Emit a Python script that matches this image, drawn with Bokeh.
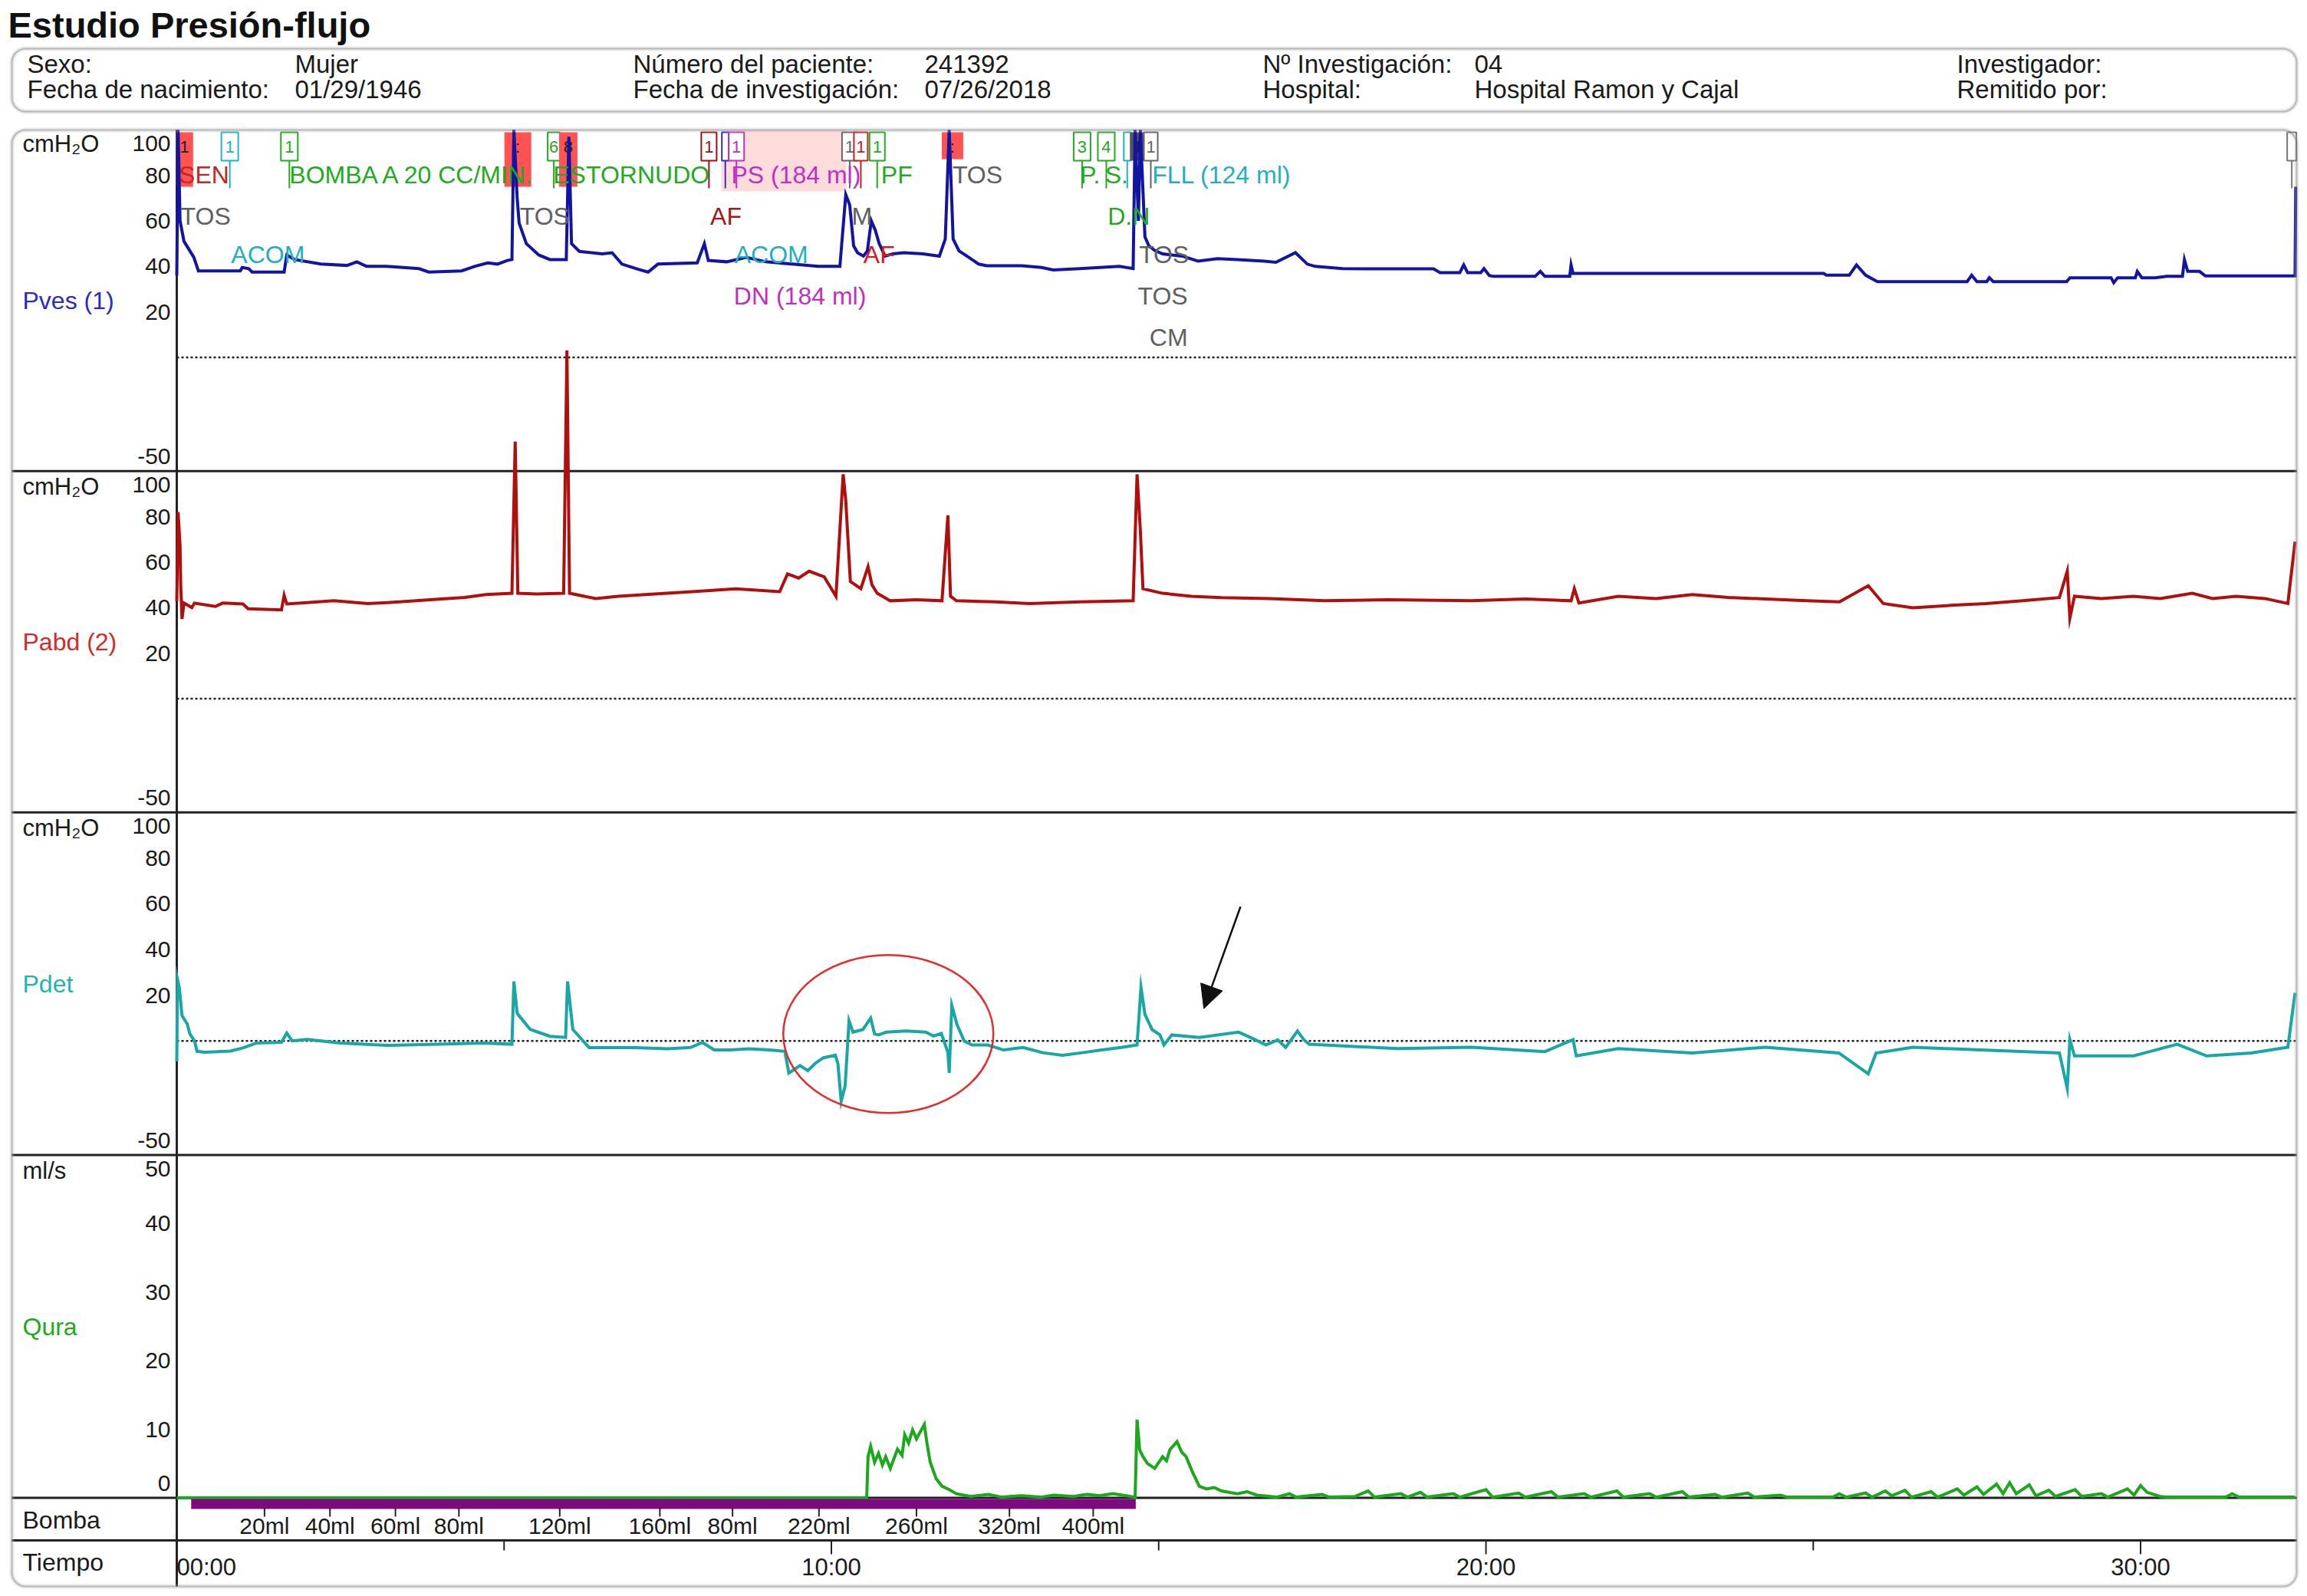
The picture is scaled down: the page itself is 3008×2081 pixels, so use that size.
from bokeh.plotting import figure
from bokeh.models import Range1d, BoxAnnotation, Arrow, NormalHead
from bokeh.core.properties import value
from bokeh.embed import file_html
from bokeh.resources import INLINE

FONT = "Liberation Sans"

# ------------------------------------------------------------------ data
# (time in minutes, value)
pves = [
    (0.00, 36), (0.02, 100), (0.05, 60), (0.11, 51), (0.26, 44), (0.33, 38),
    (0.97, 38), (1.00, 39.5), (1.10, 39), (1.15, 37.5), (1.64, 37.5), (1.68, 45),
    (1.80, 43), (2.20, 41), (2.60, 40.4), (2.75, 42), (2.90, 40), (3.20, 40),
    (3.70, 39), (3.85, 37.5), (4.35, 38), (4.55, 40), (4.75, 41.5), (4.90, 41),
    (5.05, 42.6), (5.12, 43), (5.15, 100), (5.20, 70), (5.23, 59), (5.34, 50),
    (5.53, 45), (5.70, 43), (5.95, 43), (5.99, 97), (6.03, 50), (6.15, 46.6),
    (6.50, 45.5), (6.65, 46), (6.80, 41), (7.05, 38.7), (7.20, 37.5), (7.35, 41),
    (7.95, 41.5), (8.06, 50), (8.12, 42.6), (8.40, 42), (8.70, 44), (9.00, 42),
    (9.40, 41), (9.80, 40), (10.13, 40), (10.22, 71.5), (10.28, 67), (10.34, 49),
    (10.40, 46), (10.49, 44.5), (10.55, 46.8), (10.61, 60), (10.67, 56), (10.73, 50),
    (10.82, 44.5), (10.94, 45.5), (11.11, 46), (11.40, 45.5), (11.65, 44.5), (11.74, 52),
    (11.80, 100), (11.86, 52), (11.95, 46.8), (12.07, 44.5), (12.25, 41), (12.37, 40.3),
    (12.91, 40.3), (13.21, 39.5), (13.39, 38.4), (13.80, 39), (14.40, 40), (14.61, 39),
    (14.64, 100), (14.69, 60), (14.72, 100), (14.79, 53), (14.85, 49), (14.94, 47),
    (15.06, 45.5), (15.36, 44.5), (15.60, 42.3), (15.90, 43.4), (16.20, 43), (16.61, 42.3),
    (16.79, 41.8), (17.09, 46), (17.27, 41), (17.39, 40), (17.81, 39), (18.40, 38.9),
    (19.20, 38.9), (19.30, 37.2), (19.60, 37.2), (19.66, 40.6), (19.72, 37.2), (19.92, 37.2),
    (19.97, 39), (20.05, 36), (20.11, 35.6), (20.75, 35.6), (20.83, 37.8), (20.90, 35.6),
    (21.28, 35.6), (21.30, 40.6), (21.33, 36.9), (25.16, 36.9), (25.20, 36.1), (25.55, 36.1),
    (25.66, 40.6), (25.80, 36.1), (25.98, 33.3), (27.35, 33.3), (27.42, 36.1), (27.50, 33.3),
    (27.65, 33.3), (27.69, 35.0), (27.75, 33.3), (28.87, 33.3), (28.92, 35.0), (29.55, 35.0),
    (29.59, 32.8), (29.65, 35.0), (29.92, 35.0), (29.95, 37.8), (30.02, 35.0), (30.22, 35.0),
    (30.40, 35.6), (30.64, 35.6), (30.67, 42.9), (30.72, 37.8), (30.90, 37.8), (30.99, 35.8),
    (32.36, 35.8), (32.37, 75),
]

pabd = [
    (0.00, 42.7), (0.02, 82), (0.05, 67), (0.06, 50), (0.08, 35), (0.11, 42),
    (0.23, 40), (0.27, 42), (0.59, 40.5), (0.70, 42), (1.01, 41.6), (1.09, 39.5),
    (1.60, 39), (1.64, 45.4), (1.68, 41.6), (1.99, 42.2), (2.40, 43), (2.92, 41.8),
    (3.40, 42.5), (4.04, 43.8), (4.40, 44.5), (4.72, 45.7), (5.12, 46.3), (5.17, 113),
    (5.21, 46.3), (5.50, 46), (5.91, 46.3), (5.96, 153), (6.00, 46.3), (6.40, 44),
    (6.74, 45), (7.30, 46), (7.87, 47), (8.54, 48.3), (9.21, 47), (9.33, 54.8),
    (9.50, 53), (9.66, 56), (9.89, 53.5), (10.07, 45), (10.18, 98.6), (10.22, 87),
    (10.29, 51.5), (10.45, 48.3), (10.56, 58), (10.62, 50), (10.70, 46.3), (10.90, 43),
    (11.30, 43.5), (11.69, 43), (11.78, 80.6), (11.82, 45), (11.91, 43), (12.50, 42.5),
    (13.03, 41.8), (13.80, 42.5), (14.61, 43), (14.67, 98.6), (14.72, 74), (14.76, 48.3),
    (15.06, 46.3), (15.50, 45), (15.96, 44.4), (16.70, 44), (17.53, 43), (18.50, 43.5),
    (19.78, 43), (20.60, 43.8), (21.30, 43), (21.35, 48.3), (21.42, 42), (22.02, 45),
    (22.60, 44), (23.15, 45.7), (23.70, 44.5), (24.27, 43.8), (24.90, 43), (25.40, 42.5),
    (25.84, 49.6), (26.07, 41.8), (26.52, 39.9), (27.10, 41), (27.64, 41.8), (28.20, 43),
    (28.76, 44.4), (28.88, 56), (28.92, 35.4), (28.99, 45), (29.40, 44), (29.89, 45),
    (30.30, 44), (30.79, 46.3), (31.10, 44), (31.46, 45), (31.90, 44), (32.25, 41.8),
    (32.36, 69),
]

pdet = [
    (0.00, -9), (0.01, 27), (0.04, 23), (0.08, 11), (0.16, 7.4), (0.20, 3),
    (0.27, 0), (0.31, -4.6), (0.43, -5), (0.82, -4.5), (1.02, -3), (1.21, -1),
    (1.60, -0.6), (1.68, 3.4), (1.76, 0), (1.99, 0.6), (2.50, -1), (3.20, -2),
    (4.00, -1.5), (4.70, -1), (5.12, -1.5), (5.15, 26), (5.20, 12), (5.40, 5),
    (5.70, 2), (5.94, 1.5), (5.97, 26), (6.05, 5), (6.30, -3), (7.00, -3),
    (7.50, -3.5), (7.85, -2.9), (8.03, -0.7), (8.21, -4.0), (8.45, -4.0), (8.75, -3.5),
    (9.05, -4.0), (9.29, -4.6), (9.35, -14.1), (9.52, -10.8), (9.64, -13.0), (9.76, -9.7),
    (9.88, -7.4), (10.06, -6.3), (10.10, -10), (10.15, -26.4), (10.21, -19.7), (10.27, 8.8),
    (10.33, 3.8), (10.48, 4.9), (10.60, 9.9), (10.66, 3), (10.72, 2.6), (10.84, 3.8),
    (11.14, 4.3), (11.44, 3.8), (11.56, 2.1), (11.68, 3.2), (11.78, -5), (11.80, -14),
    (11.84, 15.5), (11.92, 7.1), (12.03, -0.1), (12.15, -1.8), (12.39, -1.8), (12.63, -4.0),
    (12.93, -2.9), (13.23, -5.2), (13.53, -6.3), (13.83, -5.2), (14.13, -4.0), (14.43, -2.9),
    (14.67, -1.8), (14.73, 23.4), (14.79, 11.6), (14.90, 4.9), (15.02, 2.6), (15.08, -1.8),
    (15.20, 2.6), (15.62, 1.5), (16.22, 3.8), (16.40, 1.5), (16.64, -1.8), (16.82, 0.4),
    (16.94, -2.9), (17.12, 4.3), (17.22, 0.4), (17.30, -1.5), (18.65, -3.4), (19.78, -2.8),
    (20.90, -4.7), (21.33, 0.5), (21.38, -6.6), (22.02, -3.4), (23.15, -5.3), (24.27, -2.8),
    (25.39, -5.3), (25.84, -14.4), (25.96, -5.3), (26.52, -2.8), (27.64, -4.1), (28.76, -5.3),
    (28.88, -20.8), (28.92, 0.5), (28.99, -6.6), (29.89, -6.6), (30.56, -1.5), (31.01, -6.6),
    (31.69, -5.3), (32.25, -2.8), (32.36, 21),
]

qura = [
    (0.00, 0), (10.54, 0), (10.56, 6.0), (10.60, 7.5), (10.66, 5.2), (10.72, 6.5),
    (10.78, 4.8), (10.83, 6.0), (10.90, 4.3), (11.01, 7.1), (11.08, 6.2), (11.12, 9.2),
    (11.18, 8.0), (11.24, 9.9), (11.30, 8.6), (11.35, 9.5), (11.42, 10.7), (11.46, 8.0),
    (11.51, 5.2), (11.60, 2.8), (11.69, 1.7), (11.80, 1.2), (11.91, 0.6), (12.13, 0.2),
    (12.40, 0.5), (12.60, 0.1), (12.90, 0.3), (13.20, 0.1), (13.40, 0.4), (13.70, 0.2),
    (13.90, 0.5), (14.10, 0.3), (14.30, 0.6), (14.64, 0.1), (14.67, 11.4), (14.71, 7.0),
    (14.76, 6.0), (14.83, 5.0), (14.94, 4.3), (15.06, 6.0), (15.12, 5.4), (15.17, 7.0),
    (15.28, 8.2), (15.35, 6.7), (15.42, 6.0), (15.51, 3.9), (15.62, 1.7), (15.73, 1.3),
    (15.85, 1.5), (15.96, 1.0), (16.20, 0.6), (16.35, 0.9), (16.50, 0.4), (16.80, 0.1),
    (17.00, 0.6), (17.10, 0.1), (17.50, 0.5), (17.60, 0.1), (18.00, 0.2), (18.20, 1.0),
    (18.30, 0.1), (18.70, 0.6), (18.80, 0.1), (19.00, 0.8), (19.10, 0.1), (19.50, 0.6),
    (19.60, 0.1), (20.00, 1.2), (20.10, 0.1), (20.50, 0.7), (20.60, 0.1), (21.00, 0.9),
    (21.10, 0.1), (21.50, 0.6), (21.60, 0.1), (22.00, 1.0), (22.10, 0.1), (22.50, 0.6),
    (22.60, 0.1), (23.00, 0.9), (23.10, 0.1), (23.50, 0.5), (23.60, 0.1), (24.00, 0.7),
    (24.10, 0.1), (24.50, 0.4), (24.60, 0.1), (25.30, 0.1), (25.40, 0.6), (25.50, 0.1),
    (25.80, 0.7), (25.90, 0.1), (26.10, 1.0), (26.20, 0.3), (26.40, 1.1), (26.50, 0.1),
    (26.80, 0.9), (26.90, 0.1), (27.20, 1.3), (27.30, 0.4), (27.50, 1.6), (27.60, 0.5),
    (27.80, 2.0), (27.90, 0.6), (28.00, 2.2), (28.10, 0.6), (28.30, 1.9), (28.40, 0.3),
    (28.60, 1.1), (28.70, 0.2), (29.00, 1.2), (29.10, 0.2), (29.40, 0.6), (29.50, 0.1),
    (29.80, 1.3), (29.90, 0.4), (30.00, 1.8), (30.10, 0.8), (30.30, 0.2), (30.40, 0.1),
    (31.30, 0.1), (31.40, 0.6), (31.50, 0.1), (32.36, 0.1),
]

press_ticks = [100, 80, 60, 40, 20, -50]
press_tick_labels = ["100", "80", "60", "40", "20", "-50"]
flow_ticks = [50, 40, 30, 20, 10, 0]
flow_tick_labels = ["50", "40", "30", "20", "10", "0"]
time_ticks = [0, 10, 20, 30]
time_tick_labels = ["00:00", "10:00", "20:00", "30:00"]
time_minor_ticks = [5, 15, 25]

bomba_t = [1.34, 2.34, 3.34, 4.31, 5.85, 7.38, 8.49, 9.81, 11.30, 12.72, 14.00]
bomba_labels = ["20ml", "40ml", "60ml", "80ml", "120ml", "160ml", "80ml",
                "220ml", "260ml", "320ml", "400ml"]
bomba_span = (0.22, 14.65)
flow_segment = (14.70, 16.30)
ps_span = (8.32, 10.23)

event_t = [0.12, 0.81, 1.72, 5.21, 5.76, 5.98, 8.13, 8.38, 8.55, 10.28,
           10.45, 10.70, 11.85, 13.83, 14.20, 14.52, 14.68, 14.88, 32.31]
event_num = ["1", "1", "1", ":", "6", "8", "1", "", "1", "1",
             "1", "1", ":", "3", "4", "", "1", "1", ""]

note_text = ["SEN", "TOS", "ACOM", "BOMBA A 20 CC/MIN.", "TOS", "ESTORNUDO",
             "AF", "PS (184 ml)", "ACOM", "DN (184 ml)", "M", "AF", "PF", "TOS",
             "P.", "S.", "D.N", "FLL (124 ml)", "TOS", "TOS", "CM"]
note_t = [0.03, 0.06, 0.83, 1.72, 5.24, 5.75, 8.15, 8.47, 8.52, 8.51, 10.31,
          10.49, 10.76, 11.85, 13.80, 14.18, 14.22, 14.90, 14.70, 14.68, 14.86]
note_row = [0, 1, 2, 0, 1, 0, 1, 0, 2, 3, 1, 2, 0, 0, 0, 0, 1, 0, 2, 3, 4]

header_rows = [
    ["Sexo:", "Mujer", "Número del paciente:", "241392", "Nº Investigación:", "04", "Investigador:"],
    ["Fecha de nacimiento:", "01/29/1946", "Fecha de investigación:", "07/26/2018", "Hospital:", "Hospital Ramon y Cajal", "Remitido por:"],
]

# circled region and arrow (time in min, Pdet value)
circle_at = (10.87, 3.0)
arrow_from = (16.25, 58.7)
arrow_to = (15.69, 14.1)

# ------------------------------------------------------------------ layout / style
W, H = 2998, 2072
X0, X1 = 0, W
Y0, Y1 = 0, H

T0_PX = 230.0
PX_PER_MIN = 85.35
BOX_L, BOX_R = 15, 2994
BOX_T, BOX_B = 169, 2068
SEP = [613.8, 1058.7, 1505.6, 1952.5, 2008.1]
PANELS = {
    "p1": (-50, 100, 168.8, 613.8),
    "p2": (-50, 100, 613.8, 1058.7),
    "p3": (-50, 100, 1058.7, 1505.6),
    "p4": (0, 50, 1505.6, 1952.5),
}

C_PVES = "#1414a2"
C_PABD = "#b20e0e"
C_PDET = "#18a6a6"
C_QURA = "#1ca81c"
RED_FILL = "#ff5252"

p = figure(width=W, height=H, x_range=Range1d(X0, X1), y_range=Range1d(Y1, Y0),
           x_axis_type=None, y_axis_type=None, output_backend="svg",
           toolbar_location=None, min_border=0)
p.grid.visible = False
p.outline_line_color = None
p.background_fill_color = "white"

p.extra_x_ranges = {"time": Range1d((X0 - T0_PX) / PX_PER_MIN, (X1 - T0_PX) / PX_PER_MIN)}


def panel_range(vmin, vmax, top_px, bot_px):
    s = (vmax - vmin) / (bot_px - top_px)
    return Range1d(vmin - (Y1 - bot_px) * s, vmax + (top_px - Y0) * s)


p.extra_y_ranges = {k: panel_range(*v) for k, v in PANELS.items()}


def txt(x, y, text, size, color="#1a1a1a", align="left", baseline="middle", bold=False, **kw):
    p.text(x=x, y=y, text=text, text_font=value(FONT), text_font_size=f"{size}px",
           text_color=color, text_align=align, text_baseline=baseline,
           text_font_style="bold" if bold else "normal", **kw)


# ---- title and header box
txt([10], [32], ["Estudio Presión-flujo"], 47, color="#111", bold=True)
for lw, col in ((6, "#b5b5b5"), (2, "#4a4a4a")):
    p.add_layout(BoxAnnotation(left=BOX_L, right=BOX_R, top=63, bottom=145, fill_alpha=0,
                               line_color=col, line_width=lw, border_radius=18))
hdr_x = [35, 384, 825, 1205, 1646, 1922, 2551]
hdr_y = [83, 116]
for r, row in enumerate(header_rows):
    txt(hdr_x, [hdr_y[r]] * len(row), row, 33)

# ---- PS shaded region
p.quad(left=[ps_span[0]], right=[ps_span[1]], top=[BOX_T], bottom=[249],
       x_range_name="time", fill_color="#ffdcdc", line_color=None)

# ---- main box, separators
for lw, col in ((6, "#b5b5b5"), (2, "#4a4a4a")):
    p.add_layout(BoxAnnotation(left=BOX_L, right=BOX_R, top=BOX_T, bottom=BOX_B, fill_alpha=0,
                               line_color=col, line_width=lw, border_radius=18))
p.segment(x0=[BOX_L] * len(SEP), x1=[BOX_R] * len(SEP), y0=SEP, y1=SEP,
          line_color="#222", line_width=3)
p.segment(x0=[T0_PX], x1=[T0_PX], y0=[BOX_T], y1=[BOX_B], line_color="#222", line_width=3)

# ---- zero dotted lines
t_end = pves[-1][0]
for rn in ("p1", "p2", "p3"):
    p.line(x=[0, t_end], y=[0, 0], x_range_name="time", y_range_name=rn,
           line_color="#222", line_width=2.5, line_dash="3 3")

# ---- left labels
unit_y = [187, 634, 1079, 1526]
unit_txt = ["cmH₂O", "cmH₂O", "cmH₂O", "ml/s"]
txt([29] * 4, unit_y, unit_txt, 31)
chan_y = [(a + b) / 2 for (_, _, a, b) in PANELS.values()]
txt([29], [chan_y[0]], ["Pves (1)"], 32, color="#2b2bc0")
txt([29], [chan_y[1]], ["Pabd (2)"], 32, color="#d42a2a")
txt([29], [chan_y[2]], ["Pdet"], 32, color="#22b2b2")
txt([29], [chan_y[3]], ["Qura"], 32, color="#1caa1c")
txt([29], [1981], ["Bomba"], 32)
txt([29], [2036], ["Tiempo"], 32)

TICK_X = 222
for rn in ("p1", "p2", "p3", "p4"):
    tv, tl = (flow_ticks, flow_tick_labels) if rn == "p4" else (press_ticks, press_tick_labels)
    txt([TICK_X] * (len(tv) - 2), tv[1:-1], tl[1:-1], 30, align="right", y_range_name=rn)
    txt([TICK_X], [tv[0]], [tl[0]], 30, align="right", y_range_name=rn, y_offset=18)
    txt([TICK_X], [tv[-1]], [tl[-1]], 30, align="right", y_range_name=rn, y_offset=-19)

# ---- event markers (boxes at top of panel 1)
ev_style = [
    # color, filled, width, bottom
    ("#e03030", True, 22, 243), ("#1fb3c4", False, 22, 209), ("#22aa22", False, 22, 209),
    ("#e03030", True, 35, 243), ("#22aa22", False, 16, 209), ("#e03030", True, 24, 243),
    ("#a01010", False, 20, 209), ("#3030c0", False, 9, 209), ("#c030c0", False, 20, 209),
    ("#666666", False, 20, 209), ("#cc2020", False, 18, 209), ("#22aa22", False, 20, 209),
    ("#e03030", True, 28, 207), ("#22aa22", False, 22, 209), ("#22aa22", False, 22, 209),
    ("#1fb3c4", False, 9, 209), ("#555555", True, 20, 209), ("#666666", False, 18, 209),
    ("#777777", False, 12, 209),
]
for t, num, (col, filled, w, bot) in zip(event_t, event_num, ev_style):
    top = BOX_T + 3
    if filled:
        p.quad(left=[t], right=[t], top=[top], bottom=[bot], x_range_name="time",
               line_color=RED_FILL if col == "#e03030" else col, line_width=w,
               fill_color=None)
    else:
        p.segment(x0=[t], x1=[t], y0=[209], y1=[245], x_range_name="time",
                  line_color=col, line_width=2)
        p.rect(x=[t], y=[(top + 209) / 2], width=w, height=209 - top, width_units="screen",
               height_units="screen", x_range_name="time", fill_color="white",
               line_color=col, line_width=2)
    if num:
        txt([t], [191], [num], 22, color="#222" if filled else col, align="center",
            x_range_name="time")

# ---- traces
for data, rn, col in ((pves, "p1", C_PVES), (pabd, "p2", C_PABD),
                      (pdet, "p3", C_PDET), (qura, "p4", C_QURA)):
    ts, vs = zip(*data)
    p.line(x=list(ts), y=list(vs), x_range_name="time", y_range_name=rn,
           line_color=col, line_width=4, line_join="miter")

p.line(x=list(flow_segment), y=[0, 0], x_range_name="time", y_range_name="p4",
       line_color="#222", line_width=2)

# ---- event notes
note_colors = ["#c02828", "#606060", "#22b0c0", "#22aa22", "#606060", "#22aa22",
               "#a01818", "#c030c0", "#22b0c0", "#c030c0", "#606060", "#d02020",
               "#22aa22", "#606060", "#22aa22", "#22aa22", "#22aa22", "#22b0c0",
               "#606060", "#606060", "#606060"]
ROW_Y = [227, 281, 331, 385, 439]
txt(note_t, [ROW_Y[r] for r in note_row], note_text, 32, color=note_colors,
    x_range_name="time")

# ---- pump bar and volume labels
p.quad(left=[bomba_span[0]], right=[bomba_span[1]], top=[1954], bottom=[1967],
       x_range_name="time", fill_color="#7e0a82", line_color=None)
p.segment(x0=bomba_t, x1=bomba_t, y0=[1966] * len(bomba_t), y1=[1977] * len(bomba_t),
          x_range_name="time", line_color="#222", line_width=2)
txt(bomba_t, [1989] * len(bomba_t), bomba_labels, 30, align="center", x_range_name="time")

# ---- time axis
p.segment(x0=time_ticks[1:], x1=time_ticks[1:], y0=[2008] * 3, y1=[2026] * 3,
          x_range_name="time", line_color="#222", line_width=2)
p.segment(x0=time_minor_ticks, x1=time_minor_ticks, y0=[2008] * 3, y1=[2021] * 3,
          x_range_name="time", line_color="#222", line_width=2)
txt([time_ticks[0]], [2043], [time_tick_labels[0]], 31, x_range_name="time")
txt(time_ticks[1:], [2043] * 3, time_tick_labels[1:], 31, align="center", x_range_name="time")

# ---- annotations: circle and arrow
p.ellipse(x=[circle_at[0]], y=[circle_at[1]], width=274, height=206, width_units="screen",
          height_units="screen", x_range_name="time", y_range_name="p3",
          fill_color=None, line_color="#e52b2b", line_width=2.5)
p.add_layout(Arrow(x_start=arrow_from[0], y_start=arrow_from[1], x_end=arrow_to[0], y_end=arrow_to[1],
                   x_range_name="time", y_range_name="p3", line_color="#111", line_width=2.5,
                   end=NormalHead(size=30, fill_color="#111", line_color="#111")))

open("out.html", "w").write(file_html(p, INLINE))
